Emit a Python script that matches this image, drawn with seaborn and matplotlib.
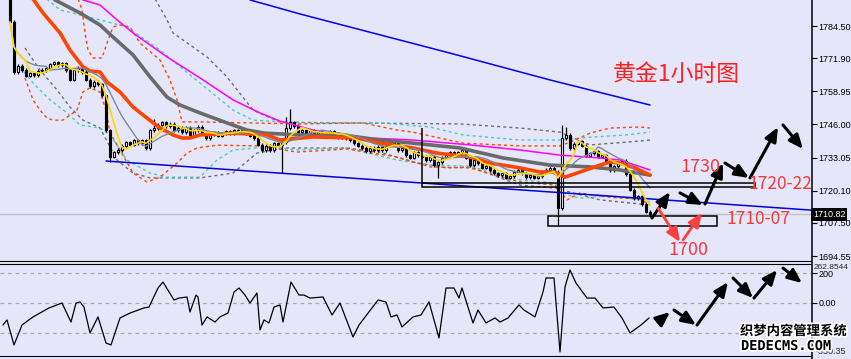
import numpy as np
import pandas as pd
import matplotlib
matplotlib.use("Agg")
import matplotlib.pyplot as plt
import matplotlib.patheffects as pe
from matplotlib.patches import Rectangle
from matplotlib.lines import Line2D
import matplotlib.transforms as mtransforms
import seaborn as sns

# ---------------- data ----------------
first_open = 1796.0
closes = [
    1786.1, 1766.5, 1768.9, 1767.3, 1765.0, 1766.1, 1765.3, 1766.9, 1767.3, 1768.1,
    1769.6, 1770.4, 1769.2, 1770.0, 1767.3, 1763.4, 1767.3, 1768.1, 1766.5, 1763.4,
    1761.0, 1762.6, 1761.8, 1757.5, 1743.8, 1733.3, 1735.2, 1736.0, 1737.6, 1739.1,
    1738.0, 1739.9, 1738.7, 1739.9, 1736.8, 1743.8, 1744.6, 1745.8, 1746.9, 1745.4,
    1746.2, 1743.8, 1744.6, 1743.0, 1744.6, 1741.9, 1743.8, 1745.0, 1742.6, 1740.7,
    1741.9, 1743.0, 1741.5, 1742.6, 1743.4, 1742.3, 1743.8, 1743.0, 1743.8, 1742.6,
    1741.5, 1740.7, 1738.0, 1736.0, 1737.6, 1736.0, 1738.7, 1738.0, 1739.1, 1744.6,
    1746.9, 1745.4, 1743.0, 1743.8, 1742.6, 1743.8, 1742.3, 1743.0, 1741.9, 1742.6,
    1743.4, 1742.3, 1741.1, 1741.9, 1740.7, 1739.9, 1738.7, 1737.6, 1736.8, 1735.6,
    1736.8, 1736.0, 1737.2, 1736.0, 1737.6, 1739.9, 1738.7, 1736.0, 1736.8, 1734.0,
    1732.9, 1735.2, 1734.0, 1733.3, 1732.1, 1733.3, 1730.1, 1731.3, 1732.9, 1734.0,
    1735.2, 1734.0, 1735.2, 1736.0, 1732.9, 1730.1, 1732.1, 1730.9, 1729.0, 1729.7,
    1728.2, 1727.0, 1726.2, 1727.0, 1725.1, 1725.8, 1727.4, 1728.2, 1727.0, 1725.4,
    1726.2, 1725.1, 1725.8, 1727.4, 1728.2, 1729.0, 1727.4, 1713.3, 1740.7, 1741.9,
    1736.8, 1738.4, 1739.5, 1737.6, 1733.7, 1734.8, 1735.6, 1733.3, 1734.0, 1731.3,
    1728.2, 1729.7, 1730.9, 1731.7, 1726.6, 1720.4, 1717.2, 1718.0, 1714.9, 1711.8,
    1710.8,
]
wick_high = {0: 1798.0, 69: 1749.0, 70: 1752.0, 138: 1745.8, 139: 1745.0, 36: 1748.0}
wick_low = {25: 1731.5, 68: 1727.0, 107: 1725.1, 137: 1706.3, 160: 1709.8}
last_price = 1710.82

ma_orange_bar = [4.5, 8.25, 12.5, 15, 18.25, 20, 22.5, 24.25, 27.5, 30.75, 34.25, 37.5, 40.75, 43, 45, 47.5,
                 55.75, 64.25, 67.5, 75.75, 86.75, 92.5, 100.75, 106.75, 115, 120, 127.5, 132.5, 136.25,
                 138.75, 142.5, 147.5, 150, 152.5, 156.25, 160]
ma_orange = [1797.8, 1789.6, 1781.8, 1775.1, 1768.5, 1766.9, 1766.5, 1762.6, 1758.7, 1752.8, 1748.5, 1744.6,
             1741.9, 1740.7, 1740.7, 1741.9, 1742.6, 1741.9, 1739.9, 1741.1, 1740.7, 1738.7, 1736.8, 1734.8,
             1733.3, 1730.9, 1729.0, 1727.4, 1727.4, 1725.4, 1727.4, 1730.1, 1731.3, 1730.9, 1729.0, 1726.2]

ma_gray_bar = [8.75, 11.25, 17.5, 22.5, 25.75, 30.75, 35, 39.25, 42.5, 47.5, 54.25, 59.25, 63.75, 72.5, 85,
               92.5, 100.75, 112.5, 123.25, 135, 145, 152.5, 160]
ma_gray = [1798.6, 1794.7, 1789.6, 1784.9, 1780.2, 1773.2, 1764.6, 1756.7, 1753.6, 1750.5, 1746.6, 1743.8,
           1742.6, 1741.9, 1741.5, 1739.9, 1738.7, 1736.8, 1732.9, 1730.1, 1729.4, 1728.2, 1726.2]

ma_magenta_bar = [15, 18.25, 22.5, 26.75, 30.75, 39.25, 47.5, 55.75, 62.5, 67.5, 75.75, 84.25, 100.75, 115,
                  127.5, 137.5, 147.5, 152.5, 160]
ma_magenta = [1797.8, 1794.7, 1792.7, 1786.9, 1781.8, 1772.4, 1764.2, 1755.6, 1750.5, 1747.3, 1743.8, 1741.1,
              1739.9, 1738.0, 1736.0, 1734.0, 1732.9, 1732.1, 1728.2]

ma_blue_bar = [60, 72.5, 85, 110, 135, 160]
ma_blue = [1794.7, 1789.2, 1784.1, 1773.9, 1763.4, 1753.6]

band_orange_up_bar = [16.25, 18, 18.75, 19.5, 20.75, 23, 24.25, 25.75, 27.5, 30, 32.5, 37.5, 40, 41.75, 43,
                      47.5, 60, 72.5, 88.25, 96.75, 100.75, 113.25, 127.5, 137.5, 141.25, 145, 150, 157.5, 160]
band_orange_up = [1798.6, 1790.8, 1781.8, 1775.1, 1772.0, 1772.0, 1777.8, 1784.1, 1784.9, 1784.1, 1777.8,
                  1771.2, 1763.4, 1755.6, 1747.0, 1747.0, 1746.6, 1746.2, 1746.6, 1743.8, 1743.0, 1738.7,
                  1737.6, 1737.6, 1739.9, 1742.6, 1744.6, 1745.0, 1744.6]
band_orange_lo_bar = [3.75, 5.75, 7.5, 9.25, 10.75, 13.25, 16.75, 18.25, 20, 22.5, 24, 25, 27.5, 30.75, 34.25,
                      37.5, 41.75, 44.25, 46.75, 51.75, 62.5, 71.75, 84.25, 96.75, 105, 115, 127.5, 136.25,
                      139.25, 142.5, 149.25, 157.5, 160]
band_orange_lo = [1764.2, 1755.6, 1751.6, 1748.5, 1747.7, 1747.7, 1751.6, 1758.7, 1760.3, 1758.7, 1751.6,
                  1742.7, 1736.0, 1727.0, 1723.5, 1725.4, 1730.9, 1734.8, 1736.8, 1737.9, 1737.6, 1735.2,
                  1736.4, 1733.3, 1729.4, 1729.0, 1723.5, 1722.3, 1716.5, 1719.2, 1717.6, 1716.8, 1714.5]

band_cyan_up_bar = [7, 12.5, 17.5, 22.5, 29.25, 37.5, 47.5, 55.75, 60.75, 72.5, 92.5, 105, 113.25, 127.5,
                    137.5, 145.75, 154.25, 160]
band_cyan_up = [1797.8, 1790.8, 1788.8, 1786.9, 1784.1, 1775.1, 1762.2, 1751.6, 1747.7, 1746.6, 1746.6,
                1745.0, 1741.9, 1739.9, 1739.9, 1741.1, 1741.9, 1743.0]
band_cyan_lo_bar = [2.5, 5.75, 10, 14.25, 17.5, 22.5, 25, 29.25, 35, 39.25, 47.5, 51.75, 55.75, 64.25, 72.5,
                    84.25, 96.75, 105, 115, 127.5, 136.25, 139.25, 142.5, 150, 158.25, 160]
band_cyan_lo = [1768.5, 1762.2, 1755.6, 1750.5, 1745.8, 1744.6, 1741.9, 1732.1, 1727.0, 1725.4, 1725.4,
                1732.1, 1736.0, 1737.2, 1736.0, 1736.8, 1732.1, 1730.1, 1729.7, 1724.3, 1723.1, 1718.4,
                1717.2, 1718.0, 1716.5, 1715.7]

band_gray_up_bar = [35, 39.25, 40.75, 49.25, 54.25, 60.75, 67.5, 85, 112.5, 127.5, 137.5, 145, 154.25, 160]
band_gray_up = [1798.6, 1786.9, 1781.8, 1772.4, 1764.6, 1751.6, 1746.9, 1746.6, 1746.2, 1744.6, 1743.0,
                1738.0, 1739.1, 1739.9]
band_gray_lo_bar = [3.75, 7.5, 11.75, 15, 18.25, 22.5, 26.75, 30.75, 35, 47.5, 55.75, 61.75, 68.25, 84.25,
                    92.5, 100.75, 109.25, 115, 127.5, 136.25, 147.5, 160]
band_gray_lo = [1775.9, 1767.3, 1759.5, 1752.8, 1747.7, 1744.6, 1732.1, 1727.0, 1725.1, 1725.1, 1727.0,
                1734.8, 1736.8, 1736.8, 1735.2, 1731.3, 1729.0, 1729.4, 1722.3, 1721.1, 1716.5, 1714.5]

trend_bar = [24, 200.25]
trend_price = [1731.7, 1712.5]

cci_bar = [-1.75, -0.75, 1, 3, 5.75, 9.75, 13, 15.25, 16.5, 17.5, 18.5, 20, 22, 24, 25.25, 27.5, 30, 33.5,
           34.75, 37, 38.25, 41, 42.25, 44.25, 45, 46.5, 47, 48, 49.25, 51.25, 52.5, 54.5, 56, 57.25, 58.75,
           60, 61.75, 62.5, 63.5, 64.75, 66, 67.5, 68.25, 70.25, 72.25, 73.5, 75, 78.25, 80.5, 82.5, 85.75,
           87.25, 92, 94, 95.25, 96.75, 98, 100.75, 102.75, 104.75, 107.25, 109, 111, 112.25, 113, 115.75,
           117, 119, 121.25, 122.5, 124.5, 127.25, 128.5, 131.25, 133.25, 134, 136, 137.5, 138.75, 140,
           141.5, 144.25, 146.25, 148.25, 151, 153, 155, 157.75, 159.75]
cci_val = [-147, -113, -280, -147, -93, -33, 0, -127, 0, 7, -27, -200, -93, -267, -280, -100, -67, -33,
           -27, 100, 140, 20, 33, 40, -60, 53, 40, -147, -93, -127, -93, -67, 73, 100, 53,
           0, 67, -180, -113, -133, -27, -13, -127, 140, 53, 53, 33, 40, -80, 0, -227,
           -147, 20, 7, -93, -80, -160, -93, -80, 7, -233, 100, 100, 33, 100, -133,
           -47, -133, -100, -127, -100, -13, -47, -93, 73, 167, 167, -327, 107, 220,
           133, 33, 33, -33, -27, -100, -200, -147, -100]
cci_top, cci_bottom = 262.8544, -350.35

price_ticks = [1784.50, 1771.90, 1758.95, 1746.00, 1733.05, 1720.10, 1707.50, 1694.55]

# forecast drawing paths (bar, value)
black_arrows = [((160.5, 1709.4), (165, 1719.6)), ((167.5, 1719.2), (173.25, 1714.5)),
                ((173.75, 1714.9), (178.25, 1730.9)), ((178.75, 1730.9), (184.75, 1725.1)),
                ((185, 1725.1), (192, 1745.0)), ((193.25, 1745.8), (198.25, 1736.4))]
red_arrows = [((162, 1713.3), (167.5, 1700.0)), ((168.25, 1700.8), (173, 1711.4))]
cci_arrows = [((162, -127), (165, -60)), ((166, -47), (171.5, -147)), ((171.75, -147), (179.5, 140)),
              ((180.75, 167), (185.75, 33)), ((186, 33), (191.75, 220)), ((193.25, 233), (198, 133))]

# ---------------- figure ----------------
sns.set_style("white")
plt.rcParams["font.family"] = ["Noto Sans CJK SC", "DejaVu Sans"]
BG = "#e6e6fa"
W, H = 851, 359
AXFONT = ["Liberation Sans", "DejaVu Sans"]
AXSIZE = 6.5
fig = plt.figure(figsize=(W / 100, H / 100), dpi=100, facecolor=BG)


def px_axes(x0, y0, x1, y1):
    a = fig.add_axes([x0 / W, 1 - y1 / H, (x1 - x0) / W, (y1 - y0) / H])
    a.set_facecolor(BG)
    return a


ax = px_axes(0, 0, 811, 261)
ax2 = px_axes(0, 263.6, 811, 355.5)

# candles
n = len(closes)
df = pd.DataFrame({"bar": np.arange(n), "close": closes})
df["open"] = [first_open] + closes[:-1]
df["high"] = df[["open", "close"]].max(axis=1) + 0.6
df["low"] = df[["open", "close"]].min(axis=1) - 0.6
for k, v in wick_high.items():
    df.loc[k, "high"] = v
for k, v in wick_low.items():
    df.loc[k, "low"] = v
df["body_lo"] = df[["open", "close"]].min(axis=1)
df["body_h"] = (df["close"] - df["open"]).abs().clip(lower=0.4)
up = df["close"] >= df["open"]

ax.vlines(df["bar"], df["low"], df["high"], color="black", lw=0.9, zorder=2)
ax.bar(df["bar"][up], df["body_h"][up], bottom=df["body_lo"][up], width=0.72,
       facecolor="#f8f8ff", edgecolor="black", linewidth=0.8, zorder=3)
ax.bar(df["bar"][~up], df["body_h"][~up], bottom=df["body_lo"][~up], width=0.72,
       facecolor="black", edgecolor="black", linewidth=0.8, zorder=3)

df["ma5"] = df["close"].rolling(5, min_periods=1).mean()
df["ma10"] = df["close"].rolling(10, min_periods=1).mean()


def line(a, xs, ys, **kw):
    sns.lineplot(x=list(xs), y=list(ys), ax=a, estimator=None, sort=False, **kw)


DASH = (0, (2.2, 2.2))
line(ax, band_gray_up_bar, band_gray_up, color="#6e6e6e", lw=1, linestyle=DASH, zorder=1)
line(ax, band_gray_lo_bar, band_gray_lo, color="#6e6e6e", lw=1, linestyle=DASH, zorder=1)
line(ax, band_cyan_up_bar, band_cyan_up, color="#40d0c8", lw=1, linestyle=DASH, zorder=1)
line(ax, band_cyan_lo_bar, band_cyan_lo, color="#40d0c8", lw=1, linestyle=DASH, zorder=1)
line(ax, band_orange_up_bar, band_orange_up, color="#ff4500", lw=1, linestyle=DASH, zorder=1)
line(ax, band_orange_lo_bar, band_orange_lo, color="#ff4500", lw=1, linestyle=DASH, zorder=1)

ax.axhline(last_price, color="#c0c0c0", lw=1, zorder=1)
line(ax, ma_blue_bar, ma_blue, color="#0000ff", lw=1.1, zorder=4)
line(ax, trend_bar, trend_price, color="#0000e0", lw=1.1, zorder=4)
line(ax, ma_magenta_bar, ma_magenta, color="#ff00ff", lw=1.1, zorder=4)
line(ax, ma_gray_bar, ma_gray, color="#6a6a6a", lw=2.6, zorder=4)
line(ax, ma_orange_bar, ma_orange, color="#ff4500", lw=2.6, zorder=5)
line(ax, df["bar"], df["ma10"], color="#7a8a9a", lw=1.0, zorder=5)
line(ax, df["bar"], df["ma5"], color="#ffd700", lw=1.2, zorder=6)

# drawings: boxes and marker line
ax.add_patch(Rectangle((103, 1721.5), 186.25 - 103, 1.6, fill=False, ec="black", lw=1.1, zorder=6))
ax.add_patch(Rectangle((134.5, 1706.3), 176.75 - 134.5, 3.9, fill=False, ec="black", lw=1.1, zorder=6))
ax.vlines([103], 1723.1, 1744.6, color="black", lw=1.1, zorder=6)


def arrow(a, p0, p1, color, lw):
    a.annotate("", xy=p1, xytext=p0, annotation_clip=False,
               arrowprops=dict(arrowstyle="-|>,head_length=0.7,head_width=0.3", lw=lw,
                               color=color, shrinkA=0, shrinkB=0, mutation_scale=12), zorder=8)


for p0, p1 in black_arrows:
    arrow(ax, p0, p1, "black", 2.2)
for p0, p1 in red_arrows:
    arrow(ax, p0, p1, "#ff4040", 2.0)

TXT = "#f03c3c"
ax.text(166.5, 1765.7, "黄金1小时图", color="#ff2020", fontsize=16.5, ha="center", va="center", zorder=9)
ax.text(172.5, 1729.4, "1730", color=TXT, fontsize=13, ha="center", va="center", zorder=9)
ax.text(192.5, 1722.9, "1720-22", color=TXT, fontsize=12.5, ha="center", va="center", zorder=9)
ax.text(187, 1709.0, "1710-07", color=TXT, fontsize=12.5, ha="center", va="center", zorder=9)
ax.text(169.5, 1696.9, "1700", color=TXT, fontsize=13, ha="center", va="center", zorder=9)

ax.set_xlim(-2.5, 200.25)
ax.set_ylim(1692.6, 1794.67)
ax.set_xlabel("")
ax.set_ylabel("")
ax.set_xticks([])
ax.yaxis.tick_right()
ax.set_yticks(price_ticks)
ax.set_yticklabels([f"{v:.2f}" for v in price_ticks])
ax.tick_params(axis="y", direction="out", length=4, width=0.8, pad=1.2, labelsize=AXSIZE, colors="black")
for lab in ax.get_yticklabels():
    lab.set_fontfamily(AXFONT)
for s in ["top", "left", "right"]:
    ax.spines[s].set_visible(False)
ax.spines["bottom"].set_color("black")

blend = mtransforms.blended_transform_factory(ax.transAxes, ax.transData)
ax.text(1.0025, last_price, "1710.82", transform=blend, color="white", fontsize=AXSIZE, va="center", ha="left",
        family=AXFONT, bbox=dict(facecolor="black", edgecolor="none", pad=1.2), zorder=10, clip_on=False)

# ---------------- CCI panel ----------------
for lvl in (200, 0, -200):
    ax2.axhline(lvl, color="#a8a8a8", lw=0.9, linestyle=(0, (3, 3)), zorder=1)
line(ax2, cci_bar, cci_val, color="black", lw=0.9, zorder=3)
for p0, p1 in cci_arrows:
    arrow(ax2, p0, p1, "black", 2.2)
ax2.set_xlim(-2.5, 200.25)
ax2.set_ylim(cci_bottom, cci_top)
ax2.set_xlabel("")
ax2.set_ylabel("")
ax2.set_xticks([])
ax2.yaxis.tick_right()
ax2.set_yticks([200, 0])
ax2.set_yticklabels(["200", "0.00"])
ax2.tick_params(axis="y", direction="out", length=4, width=0.8, pad=1.2, labelsize=AXSIZE, colors="black")
for lab in ax2.get_yticklabels():
    lab.set_fontfamily(AXFONT)
ax2.spines["left"].set_visible(False)
ax2.spines["right"].set_visible(False)
for s in ["top", "bottom"]:
    ax2.spines[s].set_color("black")
blend2 = mtransforms.blended_transform_factory(ax2.transAxes, ax2.transData)
ax2.text(1.0035, cci_top, "262.8544", transform=blend2, fontsize=6.0, va="top", ha="left",
         family=AXFONT, clip_on=False)
ax2.text(1.006, cci_bottom, "-350.35", transform=blend2, fontsize=AXSIZE, va="bottom", ha="left",
         family=AXFONT, clip_on=False)

# right axis line across whole height
fig.add_artist(Line2D([811.5 / W, 811.5 / W], [0, 1], color="black", lw=1.1, transform=fig.transFigure))

# watermark
stroke = [pe.withStroke(linewidth=2.5, foreground="white")]
fig.text(740 / W, 1 - 331 / H, "织梦内容管理系统", fontsize=9.6, color="black", weight="bold",
         va="center", ha="left", path_effects=stroke, family=["Noto Sans CJK SC", "DejaVu Sans"])
fig.text(741 / W, 1 - 346 / H, "DEDECMS.COM", fontsize=9.8, color="black", weight="bold",
         va="center", ha="left", path_effects=stroke, family=["DejaVu Sans Mono", "DejaVu Sans"])

fig.savefig("out.png", dpi=100, facecolor=BG)
